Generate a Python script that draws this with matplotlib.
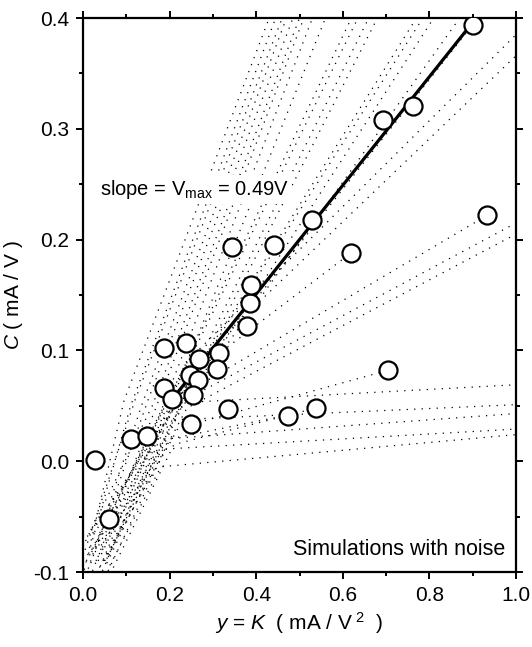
import numpy as np
import matplotlib
matplotlib.use("Agg")
import matplotlib.pyplot as plt
from matplotlib.ticker import MultipleLocator, FormatStrFormatter

plt.rcParams['font.family'] = ['Liberation Sans', 'DejaVu Sans']
plt.rcParams['mathtext.fontset'] = 'custom'
plt.rcParams['mathtext.rm'] = 'Liberation Sans'
plt.rcParams['mathtext.it'] = 'Liberation Sans:italic'

# ---- measured (noisy) points ----
pts_x = [0.028, 0.061, 0.112, 0.147, 0.187, 0.237, 0.187, 0.205, 0.268, 0.315,
         0.310, 0.247, 0.266, 0.255, 0.249, 0.336, 0.378, 0.386, 0.388, 0.343,
         0.442, 0.528, 0.619, 0.705, 0.934, 0.900, 0.763, 0.693, 0.473, 0.537]
pts_y = [0.001, -0.052, 0.020, 0.023, 0.102, 0.107, 0.066, 0.056, 0.092, 0.098,
         0.083, 0.078, 0.073, 0.060, 0.034, 0.047, 0.122, 0.143, 0.159, 0.193,
         0.195, 0.218, 0.188, 0.082, 0.222, 0.394, 0.321, 0.308, 0.041, 0.048]

# ---- fitted line ----
fit_slope = 0.49
fit_intercept = -0.045
fit_x = [0.205, 0.900]

# ---- simulated trajectories (start, knee, end) ----
sim_start_x = [0.003, 0.008, 0.005, 0.012, 0.018, 0.006, 0.022, 0.015, 0.030,
               0.020, 0.040, 0.010, 0.050,
               0.028, 0.035, 0.055, 0.018, 0.045,
               0.030, 0.060,
               0.025, 0.055, 0.038, 0.065,
               0.048, 0.042, 0.070,
               0.020, 0.035, 0.045, 0.058, 0.062]
sim_start_y = [-0.098, -0.090, -0.080, -0.097, -0.092, -0.072, -0.099, -0.085, -0.090,
               -0.080, -0.095, -0.068, -0.090,
               -0.082, -0.072, -0.092, -0.062, -0.099,
               -0.078, -0.085,
               -0.066, -0.088, -0.096, -0.080,
               -0.090, -0.076, -0.096,
               -0.082, -0.090, -0.080, -0.099, -0.094]
sim_knee_x = [0.095, 0.110, 0.120, 0.135, 0.150, 0.160, 0.170, 0.180, 0.200,
              0.190, 0.200, 0.215, 0.230,
              0.210, 0.220, 0.230, 0.250, 0.205,
              0.240, 0.250,
              0.250, 0.240, 0.235, 0.240,
              0.220, 0.200, 0.210,
              0.190, 0.190, 0.185, 0.190, 0.180]
sim_knee_y = [0.055, 0.050, 0.055, 0.050, 0.055, 0.050, 0.050, 0.045, 0.050,
              0.050, 0.055, 0.050, 0.055,
              0.050, 0.055, 0.050, 0.060, 0.050,
              0.090, 0.085,
              0.078, 0.062, 0.055, 0.048,
              0.030, 0.020, 0.015,
              0.052, 0.037, 0.020, 0.011, -0.005]
sim_end_x = [0.430, 0.445, 0.460, 0.470, 0.485, 0.500, 0.510, 0.530, 0.560,
             0.620, 0.635, 0.660, 0.680,
             0.770, 0.785, 0.810, 0.870, 0.900,
             1.000, 1.000,
             0.619, 0.925, 1.000, 1.000,
             0.695, 0.465, 0.528,
             1.000, 1.000, 1.000, 1.000, 1.000]
sim_end_y = [0.400, 0.400, 0.400, 0.400, 0.400, 0.400, 0.400, 0.400, 0.400,
             0.400, 0.400, 0.400, 0.400,
             0.400, 0.400, 0.400, 0.400, 0.394,
             0.385, 0.366,
             0.188, 0.220, 0.215, 0.205,
             0.081, 0.041, 0.047,
             0.069, 0.051, 0.043, 0.029, 0.024]

x_ticks = [0.0, 0.2, 0.4, 0.6, 0.8, 1.0]
y_ticks = [-0.1, 0.0, 0.1, 0.2, 0.3, 0.4]

fig = plt.figure(figsize=(5.32, 6.47), dpi=100)
ax = fig.add_axes([83/532, 1-572/647, (516-83)/532, (572-18)/647])

for i in range(len(sim_start_x)):
    ax.plot([sim_start_x[i], sim_knee_x[i], sim_end_x[i]],
            [sim_start_y[i], sim_knee_y[i], sim_end_y[i]],
            linestyle=(0, (1, 5)), lw=0.9, color='black', zorder=1)

fx = np.array(fit_x)
ax.plot(fx, fit_slope*fx + fit_intercept, color='black', lw=2.3, zorder=2,
        solid_capstyle='butt')

ax.plot(pts_x, pts_y, linestyle='none', marker='o', ms=13, mfc='white',
        mec='black', mew=1.6, zorder=3)

ax.set_xlim(0.0, 1.0)
ax.set_ylim(-0.1, 0.4)
ax.set_xticks(x_ticks)
ax.set_yticks(y_ticks)
ax.xaxis.set_minor_locator(MultipleLocator(0.1))
ax.yaxis.set_minor_locator(MultipleLocator(0.05))
ax.xaxis.set_major_formatter(FormatStrFormatter('%.1f'))
ax.yaxis.set_major_formatter(FormatStrFormatter('%.1f'))
ax.tick_params(which='both', direction='out', top=True, right=True, width=1.4,
               labelsize=15, pad=5)
ax.tick_params(which='major', length=5)
ax.tick_params(which='minor', length=2.8)
for s in ax.spines.values():
    s.set_linewidth(1.6)

ax.set_xlabel(r'$y$ = $K$  ( mA / V$^{\ 2}$  )', fontsize=15, labelpad=4)
ax.set_ylabel(r'$C$ ( mA / V )', fontsize=15, labelpad=6)

ax.text(0.04, 0.245, r'slope = V$_{\mathrm{max}}$ = 0.49V', fontsize=14.5,
        ha='left', va='center', zorder=4,
        bbox=dict(facecolor='white', edgecolor='none', pad=2))
ax.text(0.975, -0.085, 'Simulations with noise', fontsize=15.5,
        ha='right', va='baseline', zorder=4,
        bbox=dict(facecolor='white', edgecolor='none', pad=1))

fig.savefig('out.png', dpi=100)
